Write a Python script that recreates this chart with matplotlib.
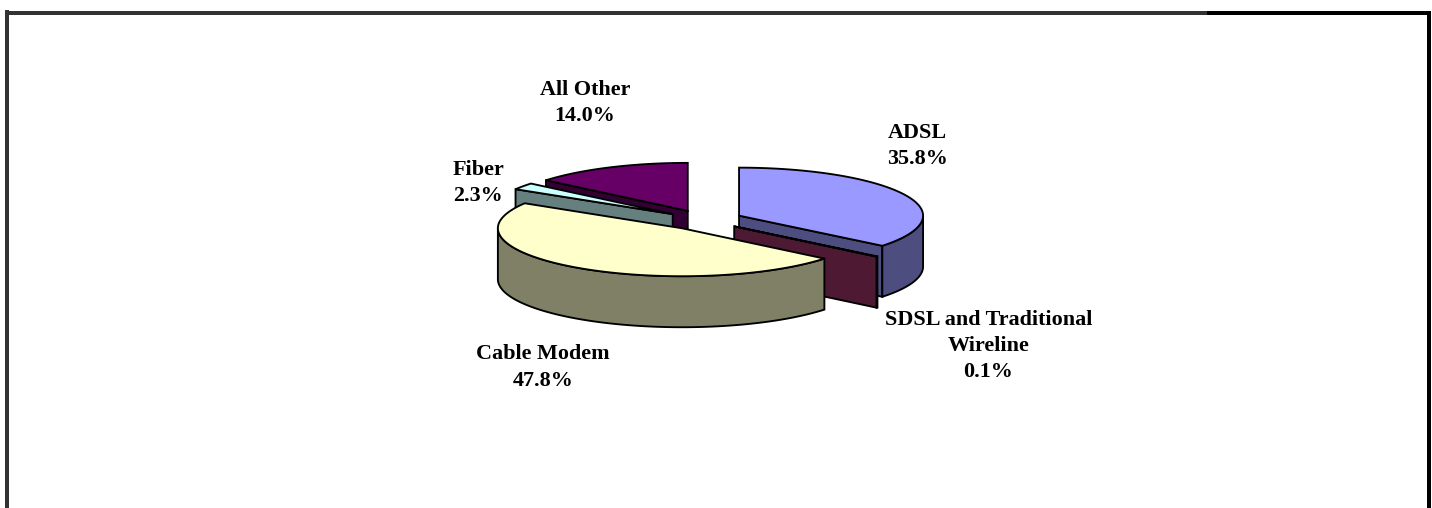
import numpy as np
import matplotlib
matplotlib.use('Agg')
import matplotlib.pyplot as plt
from matplotlib.patches import Polygon, Rectangle

# Datos
names = ['ADSL', 'SDSL and Traditional\nWireline', 'Cable Modem', 'Fiber', 'All Other']
shares = [35.8, 0.1, 47.8, 2.3, 14.0]

top_colors = ['#9999FF', '#993366', '#FFFFCC', '#CCFFFF', '#660066']
side_colors = ['#4D4D80', '#4D1933', '#808066', '#668080', '#330033']
label_pos = [(917, 146), (988.5, 346), (543, 367.5), (478.5, 183), (585, 103)]

# Geometria del pastel, en pixeles
cx, cy = 704.2, 220.0
rx, ry = 184.0, 48.0
depth = 51.0
explode = 0.21
lw = 1.35


def arc(ax0, ay0, t0, t1):
    t = np.linspace(t0, t1, max(int(abs(t1 - t0) * 2), 2))
    return np.column_stack([ax0 + rx * np.sin(t * np.pi / 180),
                            ay0 - ry * np.cos(t * np.pi / 180)])


def add_poly(ax, pts, color, z):
    ax.add_patch(Polygon(pts, closed=True, facecolor=color, edgecolor='black',
                         linewidth=lw, joinstyle='miter', zorder=z))


fig = plt.figure(figsize=(14.32, 5.08), dpi=100)
ax = fig.add_axes([0, 0, 1, 1])
ax.set_xlim(0, 1432)
ax.set_ylim(508, 0)
ax.axis('off')

edges = np.cumsum([0] + shares) / sum(shares) * 360
# orden de dibujo: de atras hacia adelante
order = [4, 3, 0, 1, 2]

for z, i in enumerate(order):
    t0, t1 = edges[i], edges[i + 1]
    mid = np.radians((t0 + t1) / 2)
    ax0 = cx + explode * rx * np.sin(mid)
    ay0 = cy - explode * ry * np.cos(mid)
    apex = np.array([ax0, ay0])
    drop = np.array([0, depth])

    # caras de corte que miran al frente
    for t in (t0, t1):
        sign = 1 if t == t0 else -1
        if sign * np.sin(np.radians(t)) < 0:
            outer = arc(ax0, ay0, t, t)[0]
            add_poly(ax, [apex, outer, outer + drop, apex + drop],
                     side_colors[i], z * 3 + 1)

    # borde exterior visible
    a, b = max(t0, 90), min(t1, 270)
    if b > a:
        rim = arc(ax0, ay0, a, b)
        add_poly(ax, np.vstack([rim, rim[::-1] + drop]), side_colors[i], z * 3 + 2)

    # cara superior
    add_poly(ax, np.vstack([apex, arc(ax0, ay0, t0, t1)]), top_colors[i], z * 3 + 3)

# Etiquetas
for name, share, (x, y) in zip(names, shares, label_pos):
    ax.text(x, y, f'{name}\n{share:.1f}%', ha='center', va='center',
            family='Liberation Serif', fontweight='bold', fontsize=15.9,
            linespacing=1.42, color='black', zorder=50)

# Marco de la imagen
for x, y, w, h, c in [(5, 11, 1202, 4, '#333333'), (1207, 11, 224, 4, 'black'),
                      (5, 10, 4, 498, '#333333'), (1427, 11, 4, 497, 'black')]:
    ax.add_patch(Rectangle((x, y), w, h, facecolor=c, edgecolor='none', zorder=60))

fig.savefig('out.png', dpi=100)
